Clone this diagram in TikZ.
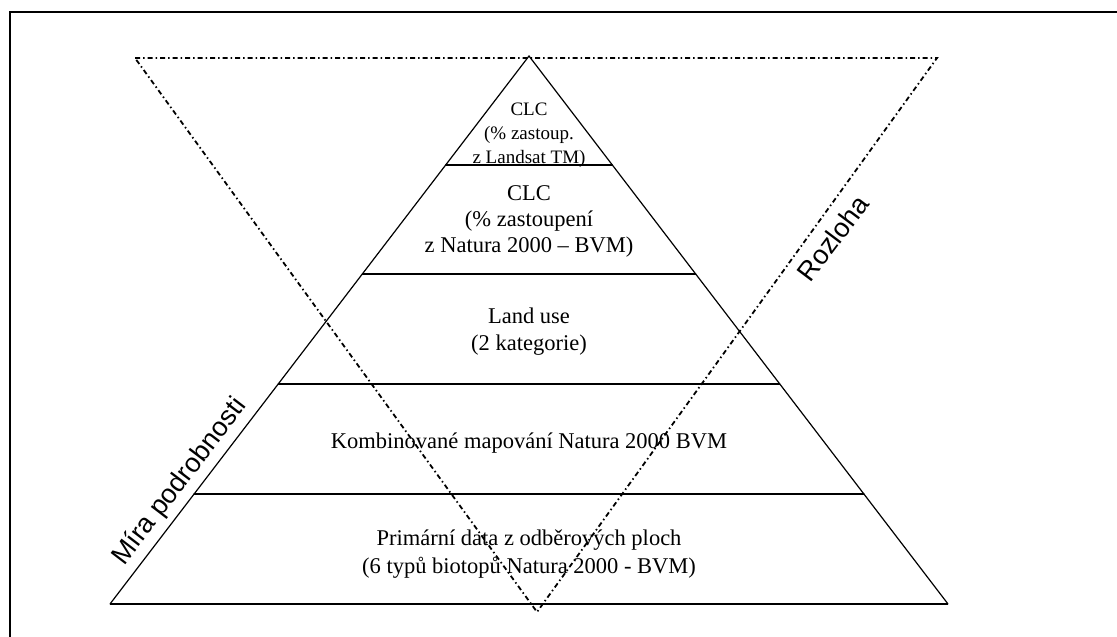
\documentclass[tikz,border=0pt]{standalone}
\usepackage{fontspec}
\setmainfont{Liberation Serif}
\newfontfamily\arialfont{Liberation Sans}
\usetikzlibrary{calc}
\tikzset{
  tier/.style={line width=1.2pt, line cap=round},
  ddot/.style={line width=1.8pt, dash pattern=on 5pt off 3pt on 1.5pt off 3pt},
  small/.style={anchor=base, inner sep=0pt, font=\fontsize{19}{24}\selectfont},
  txt/.style={anchor=base, inner sep=0pt, font=\fontsize{22.5}{27}\selectfont},
  side/.style={inner sep=0pt, font=\arialfont\fontsize{27}{32}\selectfont}
}
\begin{document}
\begin{tikzpicture}[x=1pt,y=-1pt]
\useasboundingbox (0,0) rectangle (1117,637);
% frame
\coordinate (fb) at (10,640);
\coordinate (fc) at (10,12);
\coordinate (fr) at (1120,12);
\draw[line width=2pt] (fb) -- (fc) -- (fr);
% pyramid
\coordinate (apex) at (529,56);
\coordinate (bl) at (110,604);
\coordinate (br) at (948,604);
\draw[tier, line join=miter] (bl) -- (apex) -- (br);
\draw[line width=1.6pt] (bl) -- (br);
\foreach \f/\n in {0.1989/a,0.3978/b,0.5985/c,0.7993/d}{
  \coordinate (l\n) at ($(apex)!\f!(bl)$);
  \coordinate (r\n) at ($(apex)!\f!(br)$);
  \draw[tier] (l\n) -- (r\n);
}
% inverted triangle
\coordinate (vtl) at (135,58);
\coordinate (vtr) at (937,58);
\coordinate (vb) at (537,612);
\draw[ddot] (vtl) -- (vtr) -- (vb) -- cycle;
% texts
\node[small] (t1a) at (529,115) {CLC};
\node[small] (t1b) at (529,139) {(\% zastoup.};
\node[small] (t1c) at (529,163) {z Landsat TM)};
\node[txt] (t2a) at (529,200) {CLC};
\node[txt] (t2b) at (529,226) {(\% zastoupení};
\node[txt] (t2c) at (529,252) {z Natura 2000 – BVM)};
\node[txt] (t3a) at (529,323) {Land use};
\node[txt] (t3b) at (529,350) {(2 kategorie)};
\node[txt] (t4a) at (529,448) {Kombinované mapování Natura 2000 BVM};
\node[txt] (t5a) at (529,545) {Primární data z odběrových ploch};
\node[txt] (t5b) at (529,573) {(6 typů biotopů Natura 2000 - BVM)};
\node[side, rotate=52.6] (mira) at (180,482) {Míra podrobnosti};
\node[side, rotate=53] (rozloha) at (833,238) {Rozloha};
\end{tikzpicture}
\end{document}
